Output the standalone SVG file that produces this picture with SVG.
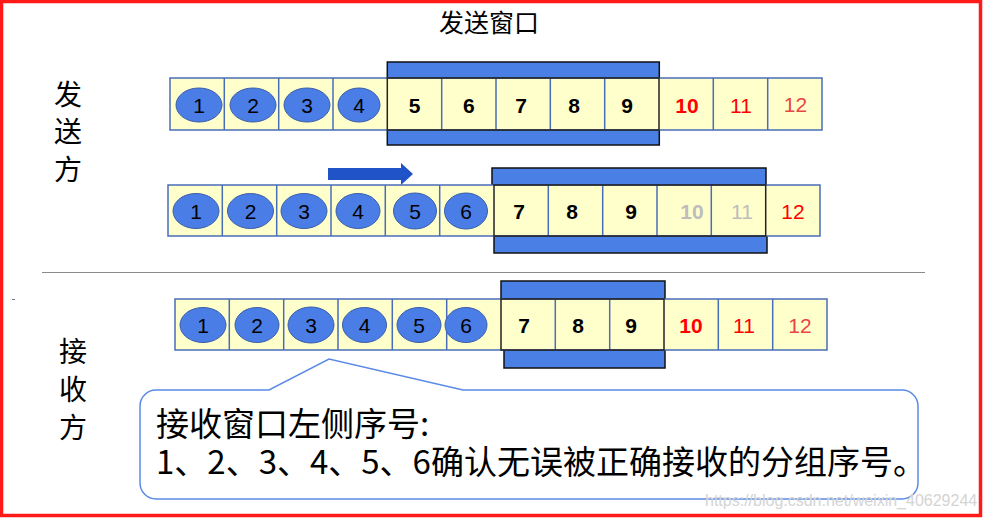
<svg xmlns="http://www.w3.org/2000/svg" width="986" height="520" viewBox="0 0 986 520">
<style>
.strip{fill:#ffffcc;stroke:#4a6db8;stroke-width:1.5}
.div{stroke:#4a6db8;stroke-width:1.5;fill:none}
.win{fill:none;stroke:#222;stroke-width:1.5}
.bar{fill:#4a7fe6;stroke:#111;stroke-width:1.5}
.ball{fill:#4a7de6;stroke:#3b5fa8;stroke-width:1}
.n{font-family:"Liberation Sans",Arial,sans-serif;font-size:21px;text-anchor:middle;fill:#000}
.b{font-weight:bold}
.red{fill:#ff0000}
.red2{fill:#e84545}
.gray{fill:#bdbdbd}
.cjk{font-family:"Noto Sans CJK SC","Noto Sans",sans-serif;fill:#000}
.side{font-size:28px;text-anchor:middle}
</style>
<rect x="1.5" y="1.5" width="979" height="514" fill="#fff" stroke="#ff1a1a" stroke-width="3.5"/>

<g id="title"><text class="cjk" x="489" y="32" font-size="25" text-anchor="middle">发送窗口</text></g>

<g id="sender-label">
<text class="cjk side" x="68" y="105">发</text>
<text class="cjk side" x="68" y="142">送</text>
<text class="cjk side" x="68" y="180">方</text>
</g>
<g id="receiver-label">
<text class="cjk side" x="73" y="362">接</text>
<text class="cjk side" x="73" y="400">收</text>
<text class="cjk side" x="73" y="438">方</text>
</g>

<line x1="42" y1="272.5" x2="925" y2="272.5" stroke="#8a8a8a" stroke-width="1.2"/>
<line x1="12" y1="299.5" x2="15" y2="299.5" stroke="#777" stroke-width="1"/>

<g id="row1">
<rect class="bar" x="387.3" y="62" width="272" height="16"/>
<rect class="bar" x="387.3" y="130" width="272" height="15"/>
<rect class="strip" x="170" y="78" width="652" height="52"/>
<path class="div" d="M224.3 78V130M278.7 78V130M333 78V130M441.7 78V130M496 78V130M550.3 78V130M604.7 78V130M713.3 78V130M767.7 78V130"/>
<rect class="win" x="387.3" y="78" width="271.7" height="52"/>
<ellipse class="ball" cx="199" cy="105" rx="23" ry="17"/>
<ellipse class="ball" cx="253" cy="105" rx="23" ry="17"/>
<ellipse class="ball" cx="307" cy="105" rx="23" ry="17"/>
<ellipse class="ball" cx="359" cy="105" rx="21" ry="17"/>
<text class="n" x="199" y="112.5">1</text>
<text class="n" x="253" y="112.5">2</text>
<text class="n" x="307" y="112.5">3</text>
<text class="n" x="359" y="112.5">4</text>
<text class="n b" x="414.5" y="112.5">5</text>
<text class="n b" x="468.8" y="112.5">6</text>
<text class="n b" x="521" y="112.5">7</text>
<text class="n b" x="574" y="112.5">8</text>
<text class="n b" x="627" y="112.5">9</text>
<text class="n b red" x="687" y="112.5">10</text>
<text class="n red" x="741" y="112.5">11</text>
<text class="n red2" x="795.5" y="111.5">12</text>
</g>

<g id="row2">
<rect class="bar" x="492" y="168" width="274" height="17"/>
<rect class="bar" x="494" y="236" width="273" height="17"/>
<rect class="strip" x="168" y="185" width="652" height="51"/>
<path class="div" d="M222.3 185V236M276.7 185V236M331 185V236M385.3 185V236M439.7 185V236M548.3 185V236M602.7 185V236M657 185V236M711.3 185V236"/>
<rect class="win" x="494" y="185" width="271.7" height="51"/>
<ellipse class="ball" cx="196" cy="211" rx="23" ry="17.5"/>
<ellipse class="ball" cx="250.5" cy="211" rx="23" ry="17.5"/>
<ellipse class="ball" cx="304" cy="211" rx="23" ry="17.5"/>
<ellipse class="ball" cx="358" cy="211" rx="22" ry="17.5"/>
<ellipse class="ball" cx="415" cy="211" rx="21.5" ry="18"/>
<ellipse class="ball" cx="466" cy="211" rx="21.5" ry="18"/>
<text class="n" x="196" y="218.5">1</text>
<text class="n" x="250.5" y="218.5">2</text>
<text class="n" x="304" y="218.5">3</text>
<text class="n" x="358" y="218.5">4</text>
<text class="n" x="415" y="218.5">5</text>
<text class="n" x="466" y="218.5">6</text>
<text class="n b" x="519" y="218.5">7</text>
<text class="n b" x="572" y="218.5">8</text>
<text class="n b" x="631" y="218.5">9</text>
<text class="n b gray" x="692" y="218.5">10</text>
<text class="n gray" x="742" y="218.5">11</text>
<text class="n red" x="793" y="218.5">12</text>
</g>

<g id="row3">
<rect class="bar" x="501" y="281" width="164" height="18"/>
<rect class="bar" x="504" y="350" width="161" height="18"/>
<rect class="strip" x="175" y="299" width="652" height="51"/>
<path class="div" d="M229.3 299V350M283.7 299V350M338 299V350M392.3 299V350M446.7 299V350M555.3 299V350M609.7 299V350M718.3 299V350M772.7 299V350"/>
<rect class="win" x="501" y="299" width="163" height="51"/>
<ellipse class="ball" cx="203" cy="325" rx="23" ry="17.5"/>
<ellipse class="ball" cx="257" cy="325" rx="22" ry="17.5"/>
<ellipse class="ball" cx="311" cy="325" rx="23" ry="18"/>
<ellipse class="ball" cx="364.5" cy="325" rx="22" ry="17.5"/>
<ellipse class="ball" cx="419" cy="325" rx="22" ry="17.5"/>
<ellipse class="ball" cx="466" cy="325" rx="21" ry="17.5"/>
<text class="n" x="203" y="332.5">1</text>
<text class="n" x="257" y="332.5">2</text>
<text class="n" x="311" y="332.5">3</text>
<text class="n" x="364.5" y="332.5">4</text>
<text class="n" x="419" y="332.5">5</text>
<text class="n" x="466" y="332.5">6</text>
<text class="n b" x="524" y="332.5">7</text>
<text class="n b" x="578" y="332.5">8</text>
<text class="n b" x="631" y="332.5">9</text>
<text class="n b red" x="691" y="332.5">10</text>
<text class="n red" x="744" y="332.5">11</text>
<text class="n red2" x="800" y="332.5">12</text>
</g>

<g id="connectors">
<polygon points="328,168 401,168 401,163 413,174 401,185 401,180 328,180" fill="#1f53c7"/>
</g>

<g id="callout">
<path d="M156 390H269L329 359L463 390H902A16 16 0 0 1 918 406V483A16 16 0 0 1 902 499H156A16 16 0 0 1 140 483V406A16 16 0 0 1 156 390Z" fill="#fff" stroke="#5a8ae6" stroke-width="1.5"/>
<text class="cjk" x="156" y="436" font-size="33">接收窗口左侧序号:</text>
<text class="cjk" x="156" y="474" font-size="33">1、2、3、4、5、6确认无误被正确接收的分组序号。</text>
</g>

<g id="watermark"><text x="705" y="506" font-family="Liberation Sans,Arial,sans-serif" font-size="16" fill="#d4d4d4">https://blog.csdn.net/weixin_40629244</text></g>
</svg>
